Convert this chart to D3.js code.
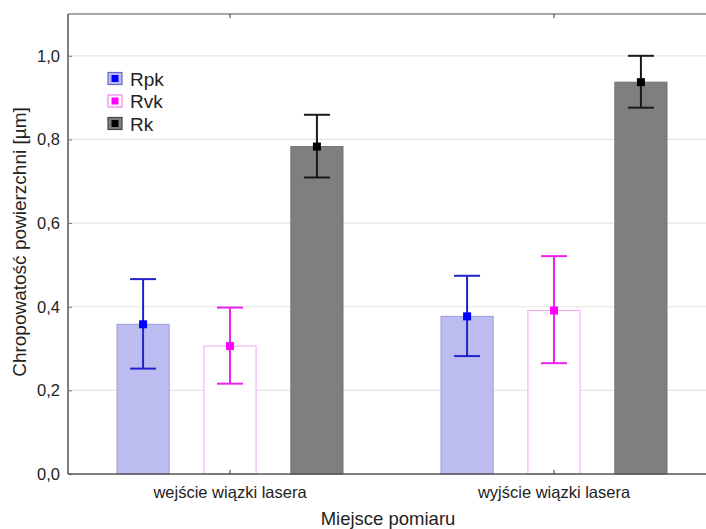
<!DOCTYPE html>
<html>
<head>
<meta charset="utf-8">
<script src="https://cdn.jsdelivr.net/npm/d3@7"></script>
<style>
  html, body { margin: 0; padding: 0; background: #fff; }
  svg { display: block; font-family: Arial, "Liberation Sans", sans-serif; }
</style>
</head>
<body>
<svg id="chart" width="706" height="529"></svg>
<script>
// Measurement locations and surface roughness parameters (means with error ranges)
const categories = ["wejście wiązki lasera", "wyjście wiązki lasera"];
const seriesNames = ["Rpk", "Rvk", "Rk"];
const meanValues = [
  [0.358, 0.306, 0.783],   // wejście
  [0.377, 0.391, 0.937]    // wyjście
];
const lowerValues = [
  [0.252, 0.216, 0.709],
  [0.282, 0.265, 0.876]
];
const upperValues = [
  [0.466, 0.398, 0.859],
  [0.474, 0.521, 1.000]
];
const yTicks = [0, 0.2, 0.4, 0.6, 0.8, 1.0];

const styles = {
  Rpk: { fill: "#bcbcf0", stroke: "#9a9ae0", err: "#2222cc", mark: "#0000ff", key: "#6666cc" },
  Rvk: { fill: "#ffffff", stroke: "#f0a8f0", err: "#ee22ee", mark: "#ff00ff", key: "#f080f0" },
  Rk:  { fill: "#7f7f7f", stroke: "#747474", err: "#1a1a1a", mark: "#000000", key: "#444444" }
};

const svg = d3.select("#chart");
const margin = { left: 68, top: 14, bottom: 474, right: 716 };

const x = d3.scaleBand().domain(categories).range([margin.left, margin.right]);
const xInner = d3.scaleBand().domain(seriesNames)
  .range([-113, 113]).paddingInner(0.4).paddingOuter(0);
const y = d3.scaleLinear().domain([0, 1.1]).range([margin.bottom, margin.top]);

// Horizontal grid
svg.append("g").selectAll("line").data(yTicks.slice(1)).join("line")
  .attr("x1", margin.left).attr("x2", 706)
  .attr("y1", d => y(d)).attr("y2", d => y(d))
  .attr("stroke", "#e4e4e4").attr("stroke-width", 1.2);

// Bars
const groups = svg.append("g").selectAll("g").data(categories).join("g")
  .attr("transform", c => `translate(${x(c) + x.bandwidth() / 2},0)`);

const rows = i => seriesNames.map((s, j) => ({
  s, mean: meanValues[i][j], lo: lowerValues[i][j], hi: upperValues[i][j]
}));

groups.each(function (c, i) {
  const g = d3.select(this);
  const data = rows(i);
  const bw = xInner.bandwidth();
  g.selectAll("rect.bar").data(data).join("rect")
    .attr("class", "bar")
    .attr("x", d => xInner(d.s))
    .attr("width", bw)
    .attr("y", d => y(d.mean))
    .attr("height", d => y(0) - y(d.mean))
    .attr("fill", d => styles[d.s].fill)
    .attr("stroke", d => styles[d.s].stroke)
    .attr("stroke-width", 1);

  const cx = d => xInner(d.s) + bw / 2;
  const err = g.selectAll("g.err").data(data).join("g").attr("class", "err")
    .attr("stroke", d => styles[d.s].err).attr("stroke-width", 2);
  err.append("line").attr("x1", cx).attr("x2", cx)
    .attr("y1", d => y(d.lo)).attr("y2", d => y(d.hi));
  err.append("line").attr("x1", d => cx(d) - 13).attr("x2", d => cx(d) + 13)
    .attr("y1", d => y(d.hi)).attr("y2", d => y(d.hi));
  err.append("line").attr("x1", d => cx(d) - 13).attr("x2", d => cx(d) + 13)
    .attr("y1", d => y(d.lo)).attr("y2", d => y(d.lo));

  g.selectAll("rect.mk").data(data).join("rect").attr("class", "mk")
    .attr("x", d => cx(d) - 4).attr("y", d => y(d.mean) - 4)
    .attr("width", 8).attr("height", 8)
    .attr("fill", d => styles[d.s].mark);
});

// Frame: top line
svg.append("line").attr("x1", margin.left).attr("x2", 706)
  .attr("y1", margin.top).attr("y2", margin.top)
  .attr("stroke", "#8a8a8a").attr("stroke-width", 1.5);

// Y axis
const yAxis = svg.append("g").attr("transform", `translate(${margin.left},0)`)
  .call(d3.axisLeft(y).tickValues(yTicks).tickSizeInner(-4).tickSizeOuter(0)
    .tickPadding(8).tickFormat(d => d3.format(".1f")(d).replace(".", ",")));
yAxis.select(".domain").attr("stroke", "#555").attr("stroke-width", 1.5)
  .attr("d", `M0,${margin.top}V${margin.bottom}`);
yAxis.selectAll(".tick line").attr("stroke", "#777");
yAxis.selectAll(".tick text").attr("font-size", 16.5).attr("fill", "#222")
  .attr("font-family", "Arial, 'Liberation Sans', sans-serif");

// X axis
const xAxis = svg.append("g").attr("transform", `translate(0,${margin.bottom})`)
  .call(d3.axisBottom(x).tickSizeInner(-4).tickSizeOuter(0).tickPadding(12));
xAxis.select(".domain").attr("stroke", "#555").attr("stroke-width", 1.5)
  .attr("d", `M${margin.left},0H706`);
xAxis.selectAll(".tick line").attr("stroke", "#333");
xAxis.selectAll(".tick text").attr("font-size", 16.5).attr("fill", "#222")
  .attr("font-family", "Arial, 'Liberation Sans', sans-serif");

// Top ticks at category centres
svg.append("g").selectAll("line").data(categories).join("line")
  .attr("x1", c => x(c) + x.bandwidth() / 2).attr("x2", c => x(c) + x.bandwidth() / 2)
  .attr("y1", margin.top).attr("y2", margin.top + 4)
  .attr("stroke", "#333");

// Axis titles
svg.append("text")
  .attr("x", 388).attr("y", 525)
  .attr("text-anchor", "middle").attr("font-size", 18.5).attr("fill", "#222")
  .text("Miejsce pomiaru");
svg.append("text")
  .attr("transform", `translate(26,242) rotate(-90)`)
  .attr("text-anchor", "middle").attr("font-size", 19).attr("fill", "#222")
  .text("Chropowatość powierzchni [µm]");

// Legend
const legend = svg.append("g").attr("transform", "translate(108,72.5)");
const li = legend.selectAll("g").data(seriesNames).join("g")
  .attr("transform", (d, i) => `translate(0,${i * 22.5})`);
li.append("rect").attr("x", 0).attr("y", 0).attr("width", 14).attr("height", 12)
  .attr("fill", d => styles[d].fill)
  .attr("stroke", d => styles[d].key)
  .attr("stroke-width", 1.2);
li.append("rect").attr("x", 3.5).attr("y", 2.5).attr("width", 7).attr("height", 7)
  .attr("fill", d => styles[d].mark);
li.append("text").attr("x", 22).attr("y", 6.5).attr("dy", "0.35em")
  .attr("font-size", 19).attr("fill", "#222").text(d => d);
</script>
</body>
</html>
